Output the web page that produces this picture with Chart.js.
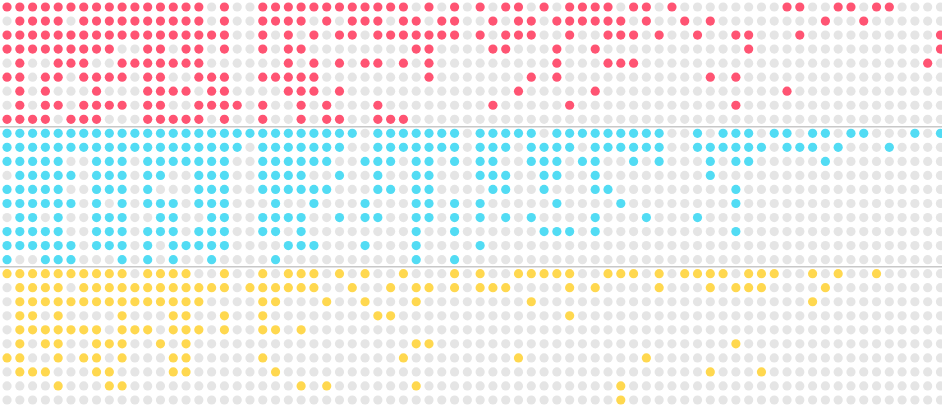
<!DOCTYPE html>
<html><head><meta charset="utf-8">
<script src="https://cdn.jsdelivr.net/npm/chart.js@4"></script>
<style>html,body{margin:0;padding:0;background:#fff;overflow:hidden}#wrap{width:942px;height:407px;position:relative}</style>
</head><body><div id="wrap"><canvas id="c"></canvas></div>
<script>
// Dot matrix: each string is one row of 74 columns, 1 = filled dot, 0 = empty (gray) dot
const columnCount = 74;
const redRows = [
  "1111111111 1111110100 1111111111 1101010101 1010111101 1010000000 0110011011 0000",
  "0111101111 1111110100 1111010111 0110110010 1101111110 1001010000 0000100100 0000",
  "1111111111 1111111100 1010101101 1111110101 1100100111 0100100110 0010000000 0001",
  "1111111110 0110110100 1011000000 0011000011 0001001000 0000000010 0000000000 0001",
  "0100111001 1111110000 0010101011 0101000000 0001000111 0000000000 0000000000 0010",
  "1101101111 0110011100 1111100000 0001000000 0101000000 0000010100 0000000000 0000",
  "0101000100 0111101100 0011101000 0000000000 1000001000 0000000000 0100000000 0000",
  "0101101111 0110011110 1001010001 0000000010 0000100000 0000000100 0000000000 0000",
  "1111011100 0111110100 1001011001 1100000000 0000000000 0000000000 0000000000 0000"
];
const blueRows = [
  "1111111111 1111111111 1111111101 1111110111 1101111111 1100101110 1101101100 0101",
  "1111111111 1111111110 1111111001 1111110111 0111101111 1100111111 0111010001 0000",
  "1111100111 0111111100 1111110011 1011010110 0111011001 0100010110 0000100000 0000",
  "0111110111 0110011100 1111001001 0011000111 0011001000 0000010000 0000000000 0000",
  "1111100111 0100011100 1111110001 1011000011 0010001100 0000000100 0000000000 0000",
  "1111110101 0111011100 0100100010 0011010100 0001000010 0000000100 0000000000 0000",
  "0110100111 0011001100 1111001011 0011010101 0100001000 1000100000 0000000000 0000",
  "1111100111 0111011100 1101000000 0010010000 0011101000 0000000100 0000000000 0000",
  "1111110111 0101111100 0011100010 0010000100 0000000000 0000000000 0000000000 0000",
  "1001110001 0101001000 0100000000 0010010000 0000000000 0000000000 0000000000 0000"
];
const yellowRows = [
  "1111111111 0111100100 1011101010 0100010100 1111100111 0101111011 1001010010 0000",
  "0111101111 1111111101 1111100100 1011010111 0000101000 0100010111 0000100000 0000",
  "0111111111 1111110000 1100010010 0010000000 0100000000 0000000000 0001000000 0000",
  "0110100001 0001100100 1000000001 1000000000 0000100000 0000000000 0000000000 0000",
  "0111111101 1101110100 1101000000 0000000000 0000000000 0000000000 0000000000 0000",
  "0101100111 0010100000 0000000000 0011000000 0000000000 0000000100 0000000000 0000",
  "1100101101 0001100000 1000000000 0100000000 1000000000 1000000000 0000000000 0000",
  "0111000110 0001100000 0100000000 0000000000 0000000000 0000010001 0000000000 0000",
  "0000100011 0000000000 0001010000 0010000000 0000000010 0000000000 0000000000 0000",
  "0000000000 0000000000 0000000000 0000000000 0000000010 0000000000 0000000000 0000"
];
const panelNames = ["red", "blue", "yellow"];
const panelColors = ["#ff5473", "#52dcf4", "#ffd84f"];
const emptyColor = "#e5e5e5";

const panels = [redRows, blueRows, yellowRows];
const onSets = [], offPoints = [], boundaries = [];
let offset = 0;
panels.forEach((rows, pi) => {
  const on = [];
  rows.forEach((row, r) => {
    const s = row.replace(/ /g, "");
    for (let c = 0; c < columnCount; c++) {
      const p = { x: c, y: offset + r };
      if (s[c] === "1") on.push(p); else offPoints.push(p);
    }
  });
  onSets.push(on);
  offset += rows.length;
  if (pi < panels.length - 1) boundaries.push(offset - 0.5);
});
const totalRows = offset;

const datasets = [{
  label: "empty", data: offPoints, backgroundColor: emptyColor,
  pointRadius: 4.6, pointBorderWidth: 0, pointHoverRadius: 4.6
}].concat(onSets.map((d, i) => ({
  label: panelNames[i], data: d, backgroundColor: panelColors[i],
  pointRadius: 4.6, pointBorderWidth: 0, pointHoverRadius: 4.6
})));

new Chart(document.getElementById("c"), {
  type: "scatter",
  data: { datasets },
  options: {
    responsive: true, maintainAspectRatio: false, animation: false,
    layout: { padding: 0, autoPadding: false },
    plugins: { legend: { display: false }, tooltip: { enabled: false } },
    scales: {
      x: { type: "linear", min: -0.55, max: columnCount - 0.88, display: false },
      y: {
        type: "linear", reverse: true, min: -0.5, max: totalRows - 0.5,
        afterBuildTicks: (scale) => { scale.ticks = boundaries.map(v => ({ value: v })); },
        ticks: { display: false },
        grid: { drawTicks: false, color: "#c8c8c8", lineWidth: 1.5 },
        border: { display: false }
      }
    }
  }
});
</script>
</body></html>
